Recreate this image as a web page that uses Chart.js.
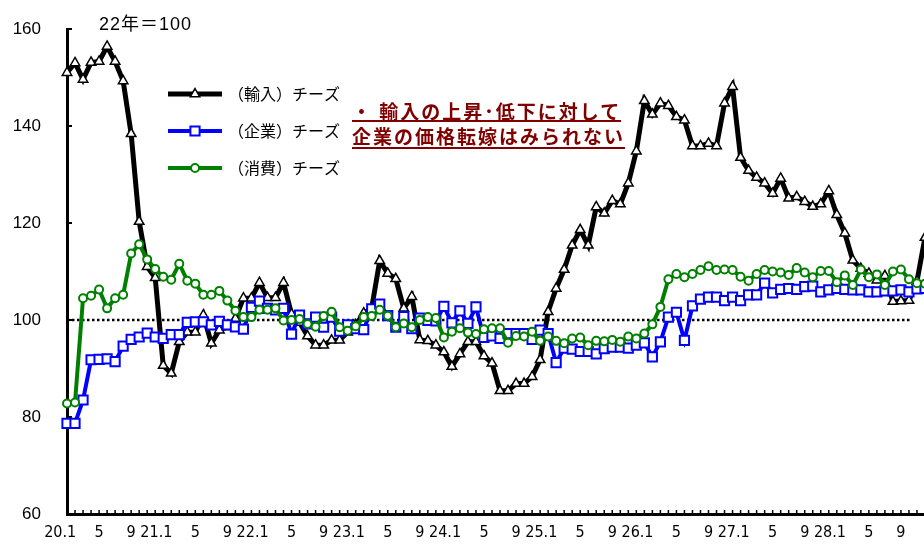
<!DOCTYPE html>
<html>
<head>
<meta charset="utf-8">
<script src="https://cdn.jsdelivr.net/npm/chart.js@4.4.1/dist/chart.umd.min.js"></script>
<style>
  html, body { margin: 0; padding: 0; background: #fff; overflow: hidden; width: 924px; height: 544px; }
  #wrap { position: relative; width: 940px; height: 544px; }
  .note { position: absolute; left: 352px; font: bold 19px 'Noto Sans CJK JP'; color: #800000;
          line-height: 19px; border-bottom: 2px solid #800000; white-space: nowrap; letter-spacing: 2px; }
  #unit { position: absolute; left: 99px; top: 9px; font: 18px 'Liberation Sans', 'Noto Sans CJK JP'; color: #000; letter-spacing: 1px; }
</style>
</head>
<body>
<div id="wrap">
  <canvas id="c" width="940" height="544"></canvas>
  <div id="unit">22年＝100</div>
  <div class="note" style="top:101px;">・ 輸入の上昇･低下に対して</div>
  <div class="note" style="top:126px;padding-bottom:2px;">企業の価格転嫁はみられない</div>
</div>
<script>
// 月次 20.1 ～ 28.12
var years = ['20', '21', '22', '23', '24', '25', '26', '27', '28'];
var months = [1, 2, 3, 4, 5, 6, 7, 8, 9, 10, 11, 12];
var labelMonths = [1, 5, 9];
var yTicks = [60, 80, 100, 120, 140, 160];
var baseLine = 100;       // 点線（22年＝100）
var baseLineEnd = '28.10';

var categories = [];
years.forEach(function(y) { months.forEach(function(m) { categories.push(y + '.' + m); }); });

// （輸入）チーズ
var importCheese = [
  151.0, 153.0, 149.6, 153.1, 153.3, 156.4, 153.3, 149.3, 138.4, 120.3, 111.0, 108.7,
  90.6, 89.0, 95.5, 97.5, 97.5, 101.0, 95.2, 97.9, 98.6, 100.3, 104.5, 104.5,
  107.7, 104.6, 104.6, 107.7, 101.2, 99.5, 96.7, 94.8, 94.8, 95.8, 95.8, 97.5,
  99.0, 101.4, 102.5, 112.2, 109.6, 108.5, 102.4, 104.8, 95.9, 95.7, 94.8, 93.4,
  90.4, 93.0, 95.5, 95.5, 92.6, 91.1, 85.4, 85.4, 86.9, 86.9, 88.3, 91.8,
  101.7, 106.5, 110.4, 115.4, 118.6, 115.4, 123.3, 122.0, 124.6, 123.9, 128.2, 134.8,
  145.2, 142.4, 144.7, 144.2, 141.9, 141.2, 135.9, 135.9, 136.4, 135.9, 144.7, 148.1,
  133.5, 130.8, 129.4, 128.2, 126.1, 129.2, 125.1, 125.4, 124.4, 123.4, 123.9, 126.6,
  121.7, 117.9, 112.3, 110.6, 109.6, 108.2, 109.1, 103.8, 103.9, 104.0, 108.0, 117.0
];
// （企業）チーズ
var corpCheese = [
  78.7, 78.7, 83.5, 91.8, 91.9, 92.0, 91.4, 94.6, 96.0, 96.5, 97.3, 96.5,
  96.2, 97.0, 97.0, 99.5, 99.6, 99.6, 99.0, 99.7, 99.0, 98.6, 98.1, 102.6,
  103.9, 102.4, 102.1, 102.4, 97.1, 101.0, 99.2, 100.6, 98.5, 100.6, 97.7, 99.0,
  98.2, 98.0, 102.3, 103.3, 100.9, 98.5, 100.7, 98.2, 100.4, 99.9, 99.8, 102.8,
  99.4, 101.9, 99.3, 102.7, 96.4, 96.7, 96.2, 97.2, 97.2, 97.2, 96.0, 97.9,
  97.2, 91.2, 94.2, 94.0, 93.5, 93.5, 93.0, 94.1, 94.4, 94.4, 94.2, 94.8,
  95.3, 92.4, 95.5, 100.6, 101.6, 95.8, 102.9, 104.3, 104.7, 104.7, 104.0, 104.7,
  104.0, 105.2, 105.2, 107.6, 105.6, 106.3, 106.5, 106.3, 106.9, 107.0, 105.8, 106.2,
  106.5, 106.3, 106.2, 106.2, 105.8, 105.8, 106.0, 106.0, 106.2, 105.8, 106.4, 106.5
];
// （消費）チーズ
var consCheese = [
  82.8, 83.0, 104.5, 105.0, 106.3, 102.4, 104.5, 105.2, 113.7, 115.6, 112.5, 110.5,
  108.9, 108.3, 111.6, 108.1, 107.5, 105.2, 105.2, 106.0, 104.0, 101.9, 100.6, 100.6,
  102.1, 102.1, 102.4, 99.9, 100.0, 100.2, 99.2, 98.6, 100.8, 101.7, 98.5, 97.8,
  98.7, 100.6, 100.8, 102.1, 100.9, 98.5, 99.3, 98.5, 100.0, 100.6, 100.4, 96.4,
  97.6, 98.3, 97.4, 97.1, 98.1, 98.3, 98.3, 95.3, 96.7, 96.6, 97.6, 95.7,
  96.6, 95.7, 95.2, 96.2, 96.4, 94.8, 95.7, 95.6, 95.9, 95.5, 96.6, 96.2,
  97.2, 99.1, 102.7, 108.4, 109.5, 108.8, 109.5, 110.3, 111.1, 110.3, 110.4, 110.3,
  108.9, 108.1, 109.5, 110.3, 110.0, 109.8, 109.3, 110.7, 109.8, 108.8, 110.1, 110.1,
  107.8, 109.2, 107.2, 110.4, 108.8, 109.4, 107.2, 110.0, 110.4, 108.4, 107.6, 107.5
];

var FONT_NUM = "'Liberation Sans', Arial, sans-serif";
var FONT_JP = "'Noto Sans CJK JP', sans-serif";

var legendRows = [94, 131, 168];

var decor = {
  id: 'decor',
  beforeDatasetsDraw: function(chart) {
    var ctx = chart.ctx, xs = chart.scales.x, ys = chart.scales.y, a = chart.chartArea;
    ctx.save();
    // 100 の点線
    ctx.strokeStyle = '#000'; ctx.lineWidth = 2.5; ctx.setLineDash([2.5, 2.5]);
    var yb = ys.getPixelForValue(baseLine);
    ctx.beginPath();
    ctx.moveTo(xs.getPixelForValue(0), yb);
    ctx.lineTo(xs.getPixelForValue(categories.indexOf(baseLineEnd)) + 3, yb);
    ctx.stroke();
    ctx.setLineDash([]);
    // 内向き目盛
    ctx.lineWidth = 2;
    yTicks.forEach(function(v) {
      var y = ys.getPixelForValue(v);
      ctx.beginPath(); ctx.moveTo(a.left, y); ctx.lineTo(a.left + 5, y); ctx.stroke();
    });
    ctx.lineWidth = 1.5;
    categories.forEach(function(c, i) {
      var x = xs.getPixelForValue(i);
      ctx.beginPath(); ctx.moveTo(x, a.bottom); ctx.lineTo(x, a.bottom - 4); ctx.stroke();
    });
    ctx.restore();
  },
  afterDraw: function(chart) {
    var ctx = chart.ctx;
    ctx.save();
    chart.data.datasets.forEach(function(ds, k) {
      var y = legendRows[k];
      ctx.strokeStyle = ds.borderColor; ctx.lineWidth = ds.borderWidth;
      ctx.beginPath(); ctx.moveTo(168, y); ctx.lineTo(222, y); ctx.stroke();
      ctx.fillStyle = '#fff'; ctx.strokeStyle = ds.borderColor; ctx.lineWidth = ds.pointBorderWidth;
      Chart.helpers.drawPoint(ctx, { pointStyle: ds.pointStyle, radius: ds.pointRadius, rotation: 0,
        borderWidth: ds.pointBorderWidth }, 195, y);
      ctx.fillStyle = '#000'; ctx.font = '16px ' + FONT_JP; ctx.textBaseline = 'middle';
      ctx.fillText(ds.label, 228, y);
    });
    ctx.restore();
  }
};

function series(label, data, color, width, style, radius, bw, order) {
  return {
    label: label, data: data, borderColor: color, borderWidth: width,
    pointStyle: style, pointRadius: radius, pointBorderWidth: bw,
    pointBackgroundColor: '#fff', pointBorderColor: color,
    tension: 0, fill: false, order: order
  };
}

new Chart(document.getElementById('c'), {
  type: 'line',
  data: {
    labels: categories,
    datasets: [
      series('（輸入）チーズ', importCheese, '#000000', 5, 'triangle', 5.5, 1.5, 3),
      series('（企業）チーズ', corpCheese, '#0000ff', 4, 'rect', 6.5, 2, 2),
      series('（消費）チーズ', consCheese, '#008000', 4, 'circle', 4, 2, 1)
    ]
  },
  options: {
    responsive: false,
    animation: false,
    layout: { padding: { top: 29, right: 15, left: 0, bottom: 0 } },
    plugins: { legend: { display: false }, tooltip: { enabled: false } },
    scales: {
      x: {
        offset: false,
        grid: { display: false, drawTicks: false },
        border: { display: true, color: '#000', width: 3 },
        ticks: {
          autoSkip: false, maxRotation: 0, padding: 9, color: '#000',
          font: { family: "'Liberation Sans Narrow', 'DejaVu Sans Condensed', " + FONT_NUM, size: 16 },
          callback: function(v, i) {
            var p = categories[i].split('.');
            var m = +p[1];
            if (labelMonths.indexOf(m) < 0) return '';
            return m === 1 ? categories[i] + '   ' : String(m);
          }
        },
        afterFit: function(s) { s.height = 30; }
      },
      y: {
        min: 60, max: 160,
        grid: { display: false, drawTicks: false },
        border: { display: true, color: '#000', width: 3 },
        ticks: { stepSize: 20, padding: 26, color: '#000', font: { family: FONT_NUM, size: 17 } },
        afterFit: function(s) { s.width = 67; s.paddingTop = 0; s.paddingBottom = 0; }
      }
    }
  },
  plugins: [decor]
});
</script>
</body>
</html>
